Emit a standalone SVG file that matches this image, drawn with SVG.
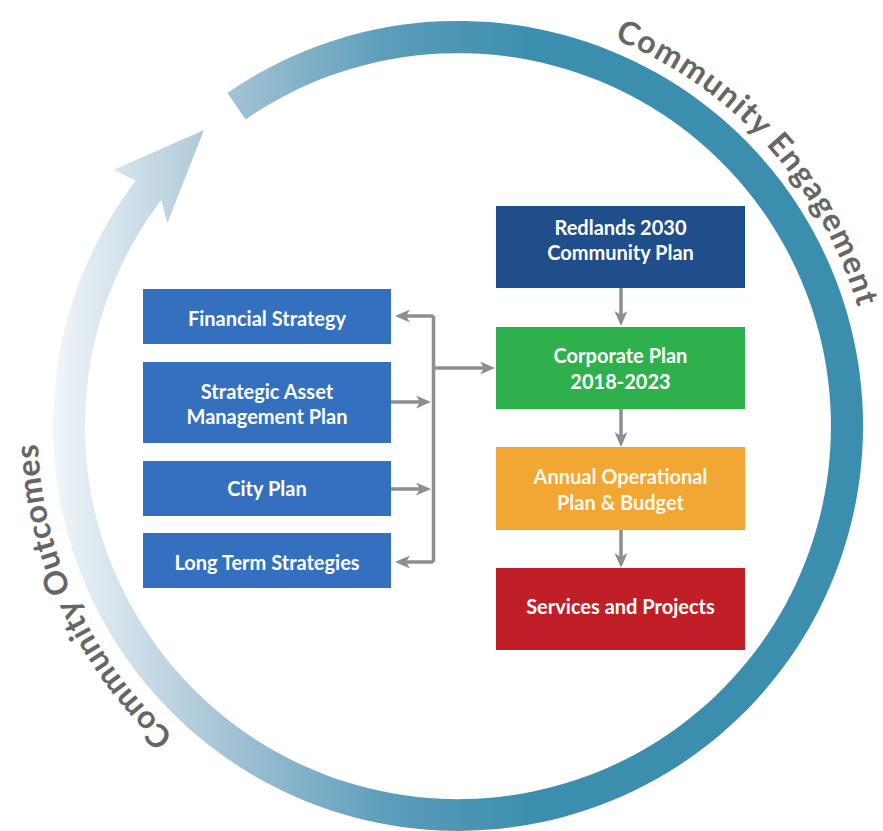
<svg xmlns="http://www.w3.org/2000/svg" width="883" height="831" viewBox="0 0 883 831">
  <defs>
    <linearGradient id="ringGrad" gradientUnits="userSpaceOnUse" x1="55" y1="0" x2="530" y2="0">
      <stop offset="0" stop-color="#f0f5f9"/>
      <stop offset="0.35" stop-color="#a7c5d6"/>
      <stop offset="0.7" stop-color="#5c9dba"/>
      <stop offset="1" stop-color="#3c8eaf"/>
    </linearGradient>
    <marker id="arr" markerUnits="userSpaceOnUse" markerWidth="15" markerHeight="13" viewBox="0 0 15 13" refX="9" refY="6.5" orient="auto">
      <path d="M0,0 L15,6.5 L0,13 L4,6.5 Z" fill="#8e8e8e"/>
    </marker>
    <path id="engPath" d="M 614.2 39.4 A 417 417 0 0 1 777.4 694.1"/>
    <path id="outPath" d="M 173.9 735.6 A 419 419 0 0 1 385.3 13.4"/>
    <style>
      .box-text { font-family: Lato, "Open Sans", "Liberation Sans", sans-serif; font-weight: bold; font-size: 20px; fill: #ffffff; text-anchor: middle; }
      .ring-text { font-family: Lato, "Open Sans", "Liberation Sans", sans-serif; font-weight: bold; font-size: 32px; fill: #666666; letter-spacing: 1.3px; }
      .conn { stroke: #8e8e8e; stroke-width: 3.5; fill: none; }
      .left { fill: #3470be; }
    </style>
  </defs>

  <rect width="883" height="831" fill="#ffffff"/>

  <g id="cycle-ring">
    <path d="M 227.4 93.0 A 405 405 0 1 1 135.8 180.6 L 113.3 170 L 204 130 L 167.3 223.3 L 161.3 200.0 A 373 373 0 1 0 245.7 119.4 Z" fill="url(#ringGrad)"/>
  </g>

  <g id="label-engagement">
    <text class="ring-text"><textPath href="#engPath">Community Engagement</textPath></text>
  </g>
  <g id="label-outcomes">
    <text class="ring-text" style="letter-spacing:0.6px"><textPath href="#outPath">Community Outcomes</textPath></text>
  </g>

  <g id="connectors">
    <path class="conn" d="M 433.5 316 V 562"/>
    <path class="conn" d="M 433.5 316 H 401" marker-end="url(#arr)"/>
    <path class="conn" d="M 433.5 562 H 401" marker-end="url(#arr)"/>
    <path class="conn" d="M 391 402 H 425" marker-end="url(#arr)"/>
    <path class="conn" d="M 391 489 H 425" marker-end="url(#arr)"/>
    <path class="conn" d="M 433.5 368 H 489" marker-end="url(#arr)"/>
    <path class="conn" d="M 621 288 V 320" marker-end="url(#arr)"/>
    <path class="conn" d="M 621 409 V 441" marker-end="url(#arr)"/>
    <path class="conn" d="M 621 530 V 562" marker-end="url(#arr)"/>
  </g>

  <g id="financial-strategy">
    <rect class="left" x="143" y="289" width="248" height="55"/>
    <text class="box-text" x="267" y="326">Financial Strategy</text>
  </g>
  <g id="strategic-asset-management-plan">
    <rect class="left" x="143" y="362" width="248" height="81"/>
    <text class="box-text" x="267" y="398.5">Strategic Asset</text>
    <text class="box-text" x="267" y="423.5">Management Plan</text>
  </g>
  <g id="city-plan">
    <rect class="left" x="143" y="461" width="248" height="55"/>
    <text class="box-text" x="267" y="496">City Plan</text>
  </g>
  <g id="long-term-strategies">
    <rect class="left" x="143" y="533" width="248" height="55"/>
    <text class="box-text" x="267" y="569.5">Long Term Strategies</text>
  </g>

  <g id="redlands-2030">
    <rect x="496" y="206" width="249" height="82" fill="#1f4e8a"/>
    <text class="box-text" x="620.5" y="235">Redlands 2030</text>
    <text class="box-text" x="620.5" y="260">Community Plan</text>
  </g>
  <g id="corporate-plan">
    <rect x="496" y="327" width="249" height="82" fill="#2eb14c"/>
    <text class="box-text" x="620.5" y="362.5">Corporate Plan</text>
    <text class="box-text" x="620.5" y="388.5">2018-2023</text>
  </g>
  <g id="annual-operational-plan">
    <rect x="496" y="447" width="249" height="83" fill="#f2a634"/>
    <text class="box-text" x="620.5" y="483.5" style="fill:#fff8ec">Annual Operational</text>
    <text class="box-text" x="620.5" y="510" style="fill:#fff8ec">Plan &amp; Budget</text>
  </g>
  <g id="services-and-projects">
    <rect x="496" y="568" width="249" height="82" fill="#c11f27"/>
    <text class="box-text" x="620.5" y="613.5">Services and Projects</text>
  </g>
</svg>
